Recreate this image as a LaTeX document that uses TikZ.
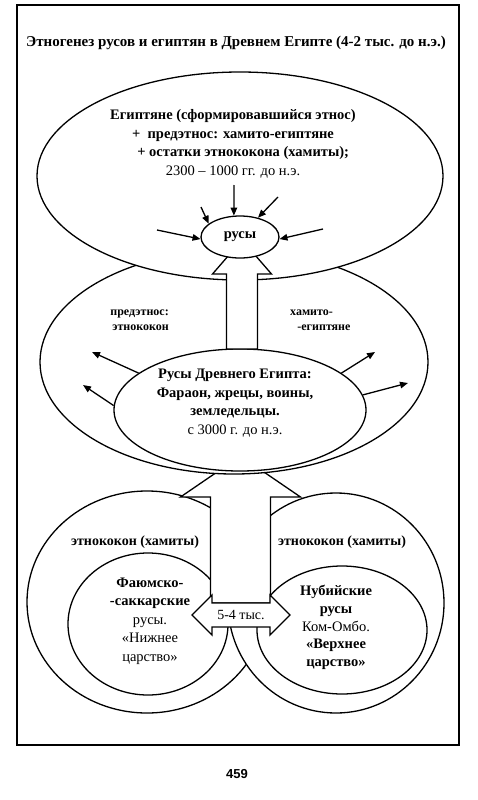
\documentclass[tikz,border=0pt]{standalone}
\usepackage{fontspec}
\setmainfont{Liberation Serif}
\newfontfamily\pagefont{Liberation Sans}
\usetikzlibrary{shapes.geometric,arrows.meta,positioning}

\begin{document}
\begin{tikzpicture}[x=1pt,y=-1pt,
  oval/.style 2 args={ellipse,draw,fill=white,line width=1.3pt,inner sep=0pt,
                      minimum width=#1pt,minimum height=#2pt},
  blk/.style={draw,fill=white,line width=1.3pt,line join=miter},
  lbl/.style={font=\bfseries\fontsize{14.5}{18.5}\selectfont,align=center,inner sep=0pt},
  side/.style={font=\bfseries\fontsize{12}{15}\selectfont,align=#1,inner sep=0pt},
  ray/.style={->,line width=1.3pt},
  >={Triangle[length=8pt,width=6.5pt]}
]
\useasboundingbox (0,0) rectangle (477,800);
\draw[line width=1.2pt] (17,5) rectangle (459,745);

\node[lbl,font=\bfseries\fontsize{15}{18}\selectfont] (title) at (236,43)
  {Этногенез русов и египтян в Древнем Египте (4-2 тыс. до н.э.)};

% Lower and Upper kingdoms
\node[oval={240}{222}] (lowout) at (147,602) {};
\node[oval={216}{220}] (upout) at (336,603) {};
\node[oval={160}{142}] (lowin) at (148,624) {};
\node[oval={170}{128}] (upin) at (342,630) {};

% block arrow up, then the span arrow
\draw[blk] (210.5,603) -- (210.5,497) -- (180.5,497) -- (240.5,456)
  -- (300.5,497) -- (270.5,497) -- (270.5,603) -- cycle;
\draw[blk] (192,615) -- (212,595) -- (212,603) -- (270,603) -- (270,595)
  -- (290,615) -- (270,635) -- (270,627) -- (212,627) -- (212,635) -- cycle;
\node[lbl,font=\fontsize{14}{16}\selectfont] (span) at (241,615) {5-4 тыс.};

% Proto-ethnos ring
\node[oval={388}{224}] (proto) at (234,362) {};
\node[oval={252}{122}] (rusegy) at (240,410) {};

% Egyptians
\node[oval={406}{208}] (egypt) at (240,176) {};
\draw[blk] (226.5,349) -- (226.5,274) -- (212.5,274) -- (242,240)
  -- (271.5,274) -- (257.5,274) -- (257.5,349) -- cycle;
\node[oval={78}{42},lbl] (rusy) at (240,237) {русы};

% Texts
\node[lbl] (egtxt) at (233,144)
  {Египтяне (сформировавшийся этнос)\\
   +\ \ предэтнос: хамито-египтяне\\
   \hspace{1.4em}+ остатки этнококона (хамиты);\\
   {\mdseries 2300 – 1000 гг. до н.э.}};
\node[side=right,anchor=east] (protoL) at (169,320) {предэтнос:\\этнококон};
\node[side=left,anchor=west] (protoR) at (290,320) {хамито-\\\hspace{0.6em}-египтяне};
\node[lbl] (rusegytxt) at (235,403)
  {Русы Древнего Египта:\\Фараон, жрецы, воины,\\земледельцы.\\
   {\mdseries с 3000 г. до н.э.}};
\node[side=center,font=\bfseries\fontsize{14}{16}\selectfont] (lowtag) at (135,542) {этнококон (хамиты)};
\node[side=center,font=\bfseries\fontsize{14}{16}\selectfont] (uptag) at (342,542) {этнококон (хамиты)};
\node[lbl] (lowtxt) at (150,621)
  {Фаюмско-\\-саккарские\\{\mdseries русы.}\\{\mdseries «Нижнее}\\{\mdseries царство»}};
\node[lbl,font=\bfseries\fontsize{14.5}{17.8}\selectfont] (uptxt) at (336,627.5)
  {Нубийские\\русы\\{\mdseries Ком-Омбо.}\\«Верхнее\\царство»};

% Rays into and out of the rusy
\foreach \n/\x/\y/\a in {1/234/185/106, 2/278/197/47, 3/201/207/157,
                         4/157/230/183, 5/323/229/-3}
{
  \coordinate (in\n) at (\x,\y);
  \draw[ray] (in\n) -- (rusy.\a);
}
\foreach \n/\a/\x/\y in {1/160/92/352, 2/178/83/385, 3/20/375/352, 4/7/408/383}
{
  \coordinate (out\n) at (\x,\y);
  \draw[ray] (rusegy.\a) -- (out\n);
}

\node[font=\pagefont\bfseries\fontsize{13}{15}\selectfont] (pagenum) at (237,774) {459};
\end{tikzpicture}
\end{document}
